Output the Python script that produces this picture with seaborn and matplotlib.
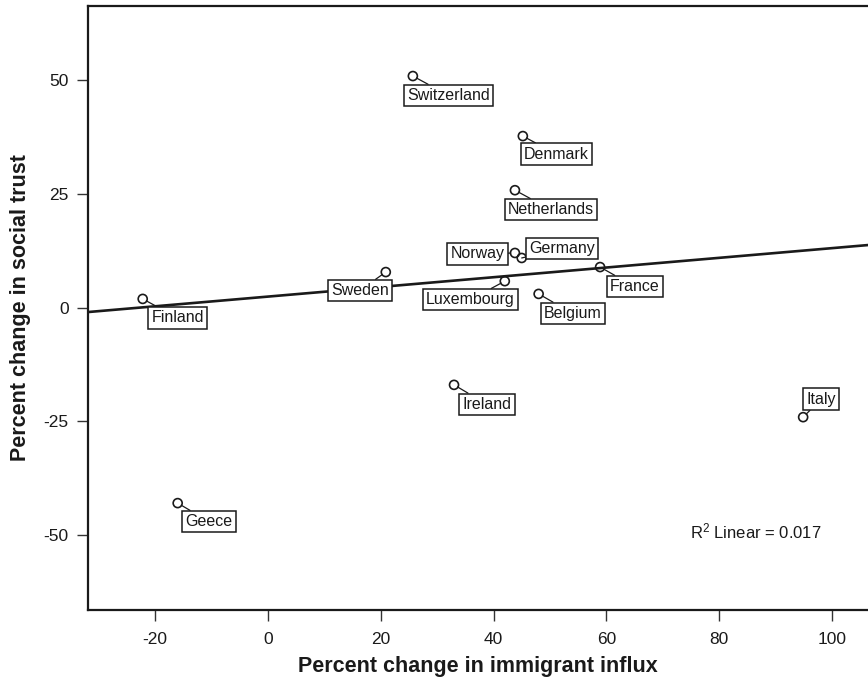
import numpy as np
import pandas as pd
import matplotlib
matplotlib.use("Agg")
import matplotlib.pyplot as plt
import seaborn as sns

# values
countries = ["Switzerland", "Denmark", "Netherlands", "Norway", "Germany", "France",
             "Luxembourg", "Belgium", "Finland", "Sweden", "Ireland", "Geece", "Italy"]
immigrant_change = [25.7, 45.2, 43.8, 43.8, 45.0, 58.9, 42.0, 48.0, -22.2, 20.9, 33.0, -16.0, 94.9]
trust_change = [50.9, 37.7, 25.8, 12.0, 10.9, 8.9, 5.8, 3.0, 1.9, 7.8, -17.0, -43.0, -24.1]
r2_text = "R$^2$ Linear = 0.017"

# label box offsets from each point, in pixels (text centre, up is positive)
label_offsets = {
    "Switzerland": (36, -19.5), "Denmark": (33.5, -18), "Netherlands": (36, -19.5),
    "Norway": (-37.5, -1), "Germany": (40.5, 9.5), "France": (34.5, -19.5),
    "Luxembourg": (-34.5, -18.5), "Belgium": (34, -19.5), "Finland": (35, -19),
    "Sweden": (-26, -18.5), "Ireland": (33, -19.5), "Geece": (31.5, -18.5),
    "Italy": (18, 18),
}

df = pd.DataFrame({"country": countries, "immigrant": immigrant_change, "trust": trust_change})

sns.set_style("ticks")
plt.rcParams["font.family"] = ["Liberation Sans", "DejaVu Sans"]
plt.rcParams["mathtext.default"] = "regular"
plt.rcParams["axes.unicode_minus"] = False

fig = plt.figure(figsize=(8.68, 6.87), dpi=100)
ax = fig.add_axes([88 / 868, 77 / 687, 780 / 868, 604 / 687])
ax.set_xlim(-31.9, 106.4)
ax.set_ylim(-66.5, 66.3)

sns.regplot(data=df, x="immigrant", y="trust", ax=ax, scatter=False, ci=None,
            truncate=False, line_kws={"color": "#1a1a1a", "lw": 1.9})
sns.scatterplot(data=df, x="immigrant", y="trust", ax=ax, marker="o", s=42,
                facecolor="none", edgecolor="#1a1a1a", linewidth=1.2, zorder=4)

for name, xv, yv in zip(countries, immigrant_change, trust_change):
    dx, dy = label_offsets[name]
    ax.annotate(name, xy=(xv, yv), xytext=(dx, dy), textcoords="offset pixels",
                ha="center", va="center", fontsize=11.5, color="#1a1a1a", zorder=5,
                bbox=dict(boxstyle="square,pad=0.2", fc="white", ec="#1a1a1a", lw=1.1),
                arrowprops=dict(arrowstyle="-", color="#1a1a1a", lw=0.9,
                                shrinkA=0, shrinkB=3))

ax.text(74.8, -49.3, r2_text, ha="left", va="center", fontsize=12, color="#1a1a1a")

ax.set_xticks([-20, 0, 20, 40, 60, 80, 100])
ax.set_yticks([-50, -25, 0, 25, 50])
ax.tick_params(axis="both", length=8, width=1.0, color="#333333", labelsize=12.5,
               labelcolor="#1a1a1a", pad=6)
ax.tick_params(axis="x", pad=8)
for side in ["left", "bottom", "top"]:
    ax.spines[side].set_linewidth(1.6)
    ax.spines[side].set_color("#1a1a1a")
ax.spines["right"].set_visible(False)

ax.set_xlabel("Percent change in immigrant influx", fontsize=15.5, fontweight="bold",
              color="#1a1a1a", labelpad=6)
ax.set_ylabel("Percent change in social trust", fontsize=15.5, fontweight="bold",
              color="#1a1a1a", labelpad=9)

fig.savefig("out.png", dpi=100)
